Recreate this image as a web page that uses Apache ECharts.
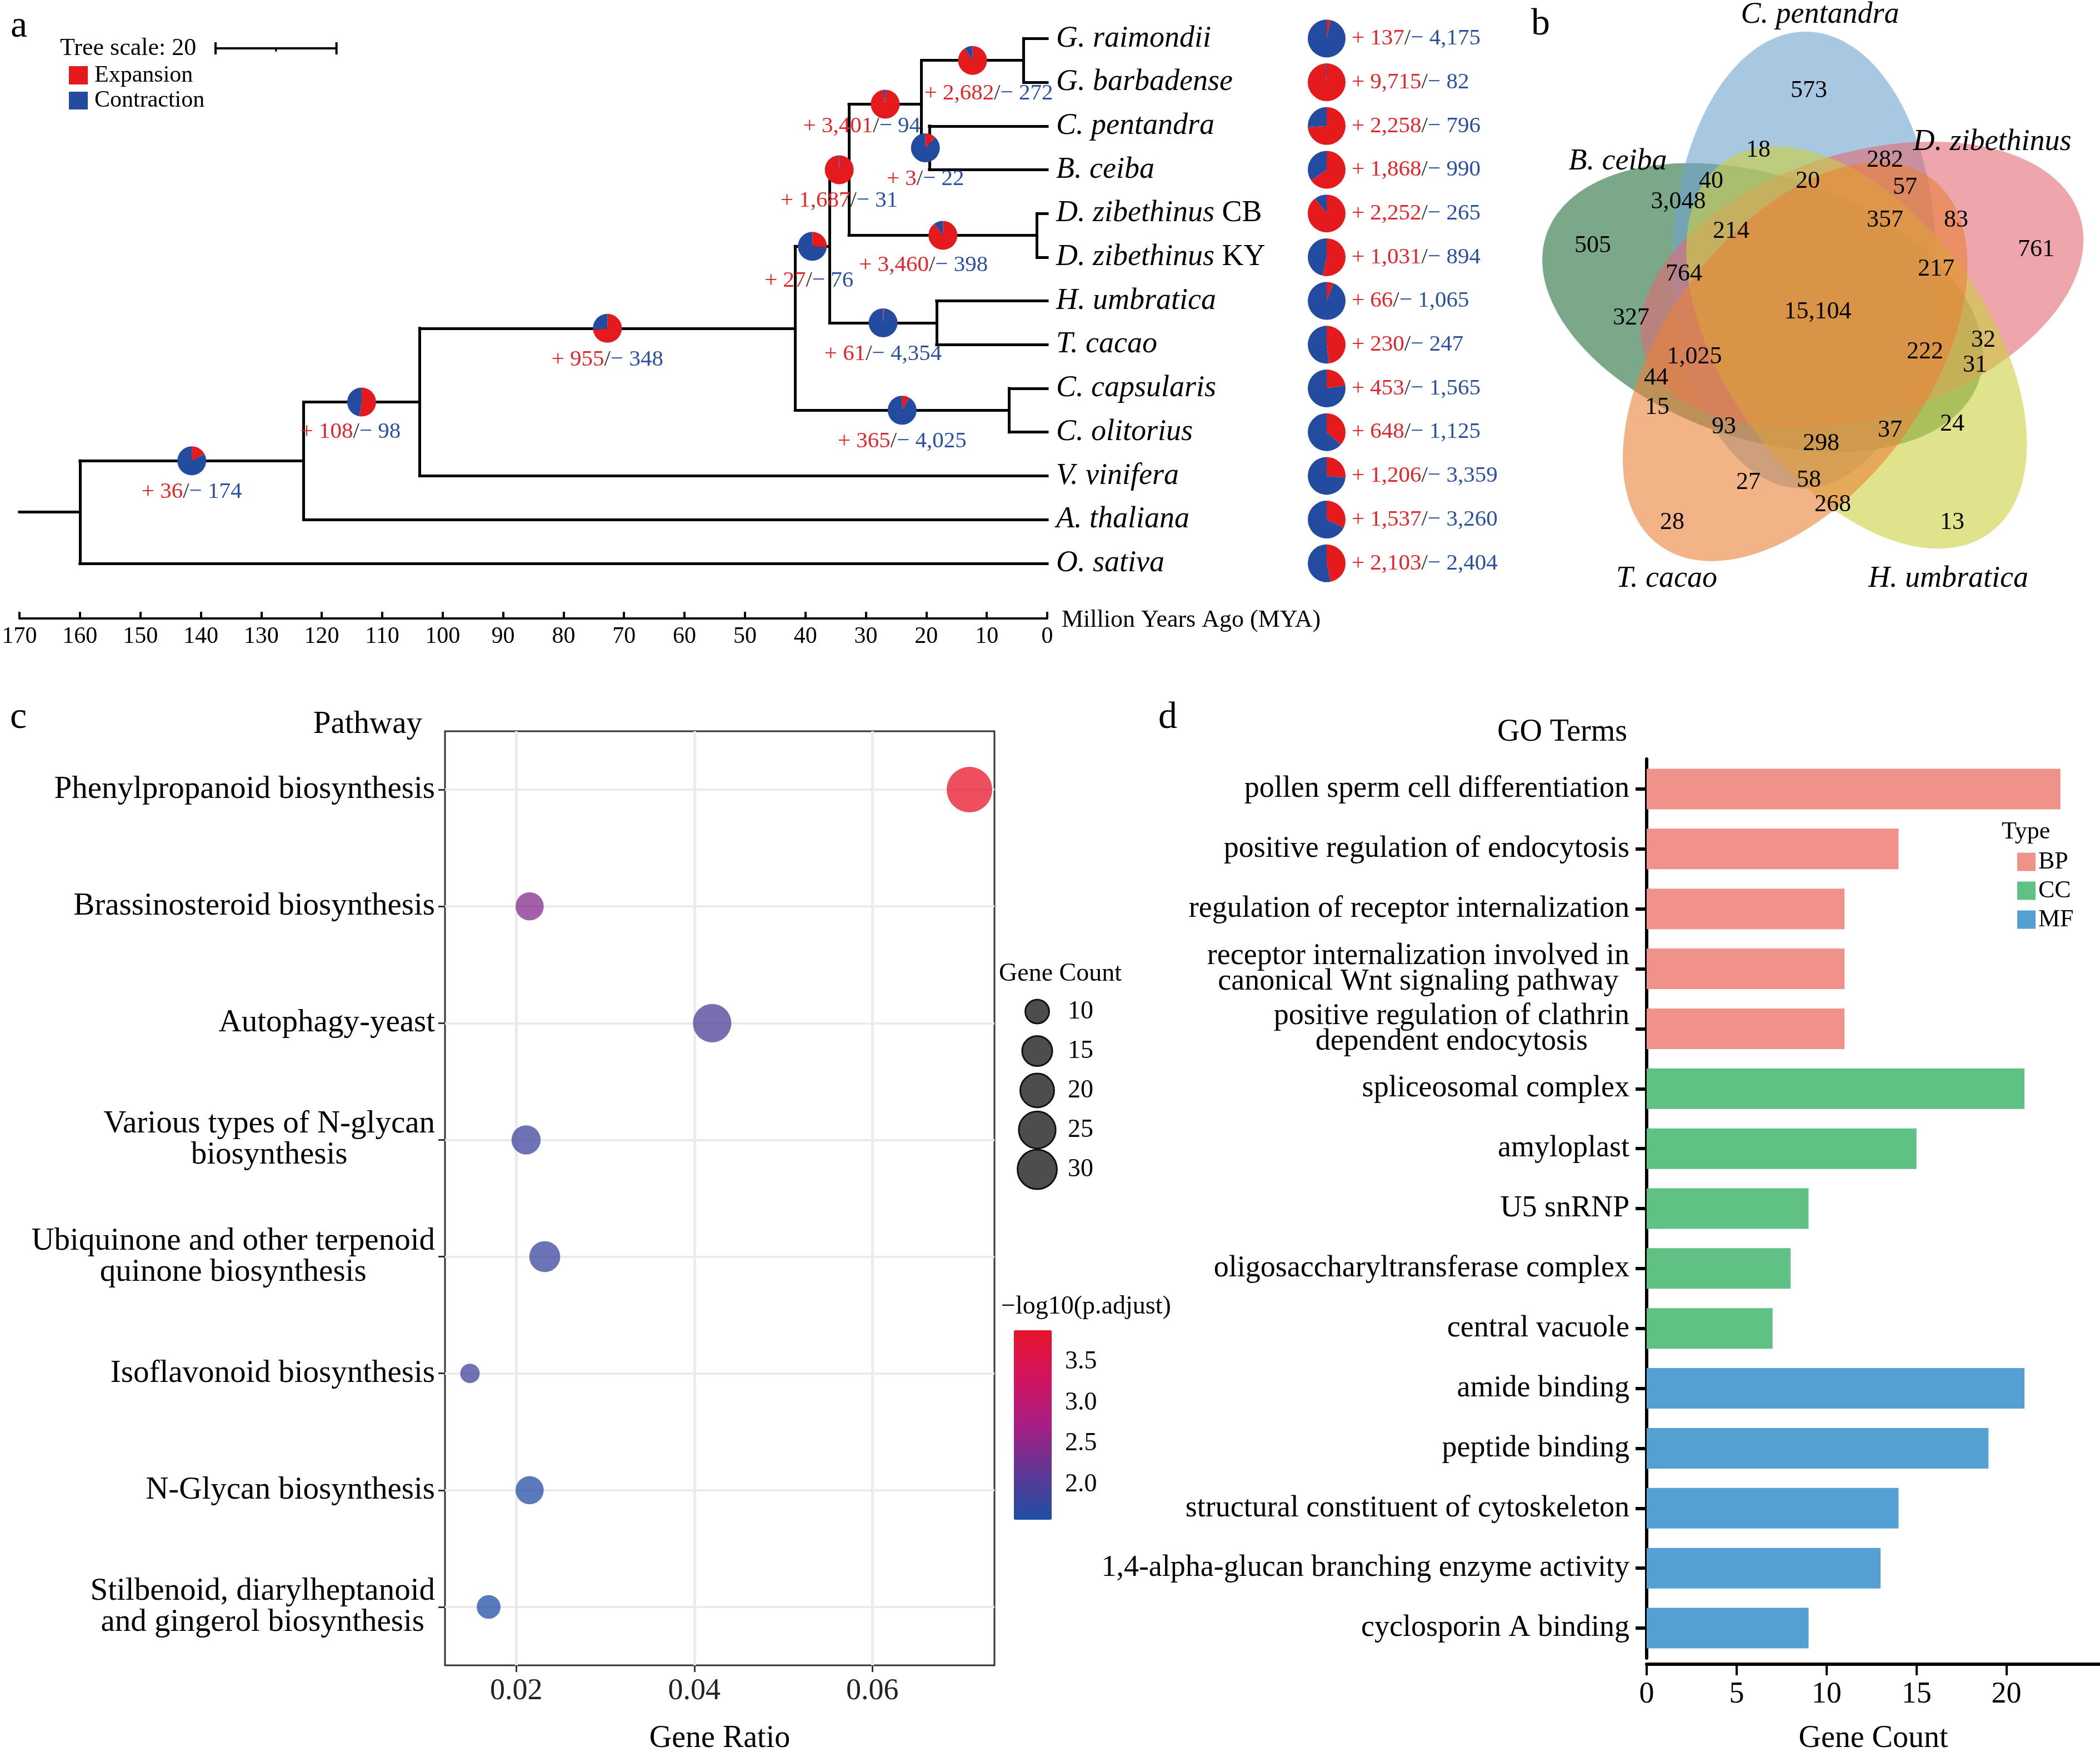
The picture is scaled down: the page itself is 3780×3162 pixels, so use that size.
<!DOCTYPE html>
<html>
<head>
<meta charset="utf-8">
<script src="https://cdn.jsdelivr.net/npm/echarts@6.0.0/dist/echarts.min.js"></script>
<style>
html,body{margin:0;padding:0;background:#ffffff;}
#chart{width:3780px;height:3162px;}
</style>
</head>
<body>
<div id="chart"></div>
<script>
// ================= DATA =================
// ---- Panel a: species tree with gene family expansion / contraction ----
const tipNames = ['G. raimondii','G. barbadense','C. pentandra','B. ceiba','D. zibethinus CB','D. zibethinus KY','H. umbratica','T. cacao','C. capsularis','C. olitorius','V. vinifera','A. thaliana','O. sativa'];
const tipExpansion   = [137, 9715, 2258, 1868, 2252, 1031, 66, 230, 453, 648, 1206, 1537, 2103];
const tipContraction = [4175, 82, 796, 990, 265, 894, 1065, 247, 1565, 1125, 3359, 3260, 2404];
// internal nodes, listed children-first; children are tip indices or node ids
const nodeIds = ['Goss','CpBc','Bomb','Duri','Malv3','HuTc','Malv2','Corc','Malv','Rosid','Dicot','Root'];
const nodeChildren = [[0,1],[2,3],['Goss','CpBc'],[4,5],['Bomb','Duri'],[6,7],['Malv3','HuTc'],[8,9],['Malv2','Corc'],['Malv',10],['Rosid',11],['Dicot',12]];
const nodeAge = [3.9, 19.5, 20.8, 1.7, 32.8, 18.3, 36.0, 6.3, 41.7, 103.8, 123.0, 160.0];
const nodeExpansion   = [2682, 3, 3401, 3460, 1687, 61, 27, 365, 955, 108, 36, null];
const nodeContraction = [272, 22, 94, 398, 31, 4354, 76, 4025, 348, 98, 174, null];
const rootStemAge = 170;
const treeScaleLength = 20;

// ---- Panel b: Venn of gene families ----
const vennSetNames = ['B. ceiba','C. pentandra','D. zibethinus','H. umbratica','T. cacao'];
const vennCounts = [573,18,282,40,20,57,3048,357,83,214,505,761,764,217,15104,327,32,1025,222,31,44,15,93,24,37,298,27,58,268,28,13];

// ---- Panel c: KEGG enrichment ----
const pathways = ['Phenylpropanoid biosynthesis','Brassinosteroid biosynthesis','Autophagy-yeast','Various types of N-glycan\nbiosynthesis','Ubiquinone and other terpenoid\nquinone biosynthesis','Isoflavonoid biosynthesis','N-Glycan biosynthesis','Stilbenoid, diarylheptanoid\nand gingerol biosynthesis'];
const geneRatio = [0.0709, 0.0215, 0.0420, 0.0211, 0.0232, 0.0148, 0.0215, 0.0169];
const geneCount = [45, 13, 28, 14, 16, 9, 13, 10];
const negLog10P = [3.887, 2.45, 2.0, 1.85, 1.8, 1.85, 1.62, 1.573];
const ratioTicks = [0.02, 0.04, 0.06];
const sizeLegendCounts = [10, 15, 20, 25, 30];
const colorbarTicks = [2.0, 2.5, 3.0, 3.5];

// ---- Panel d: GO enrichment ----
const goTerms = ['pollen sperm cell differentiation','positive regulation of endocytosis','regulation of receptor internalization','receptor internalization involved in\ncanonical Wnt signaling pathway','positive regulation of clathrin\ndependent endocytosis','spliceosomal complex','amyloplast','U5 snRNP','oligosaccharyltransferase complex','central vacuole','amide binding','peptide binding','structural constituent of cytoskeleton','1,4-alpha-glucan branching enzyme activity','cyclosporin A binding'];
const goCount = [23, 14, 11, 11, 11, 21, 15, 9, 8, 7, 21, 19, 14, 13, 9];
const goType = ['BP','BP','BP','BP','BP','CC','CC','CC','CC','CC','MF','MF','MF','MF','MF'];
const typeNames = ['BP','CC','MF'];
const countTicks = [0, 5, 10, 15, 20];

// ================= STYLE / LAYOUT =================
const SERIF = '"Liberation Serif","Times New Roman",serif';
const EXP_COLOR = '#e41a1c', CON_COLOR = '#234ba0';
const EXP_TEXT = '#e3262b', CON_TEXT = '#2c50a0';
const typeColors = {BP:'#f0918a', CC:'#60c184', MF:'#55a0d3'};
const TIP_PIE_X = 2388, TIP_LABEL_X = 2433;
const nodeLabelNudge = {Goss:[29,4], Bomb:[-42,-16], Duri:[-35,-2], Rosid:[-20,-2], Malv2:[-6,6]};
// Venn geometry (five rotated ellipses) and label layout
const vennCenter = [3269, 562], vennA = 411, vennB = 237, vennD = 96.5, vennAng0 = 185, vennRot0 = 18.6;
const vennFill = ['rgba(37,110,60,0.6)','rgba(110,163,207,0.6)','rgba(227,107,117,0.6)','rgba(205,207,63,0.6)','rgba(233,130,55,0.6)'];
const vennCountPos = [[3256,163],[3165,270],[3393,288],[3080,326],[3254,326],[3429,337],[3021,363],[3393,396],[3521,396],[3116,416],[2867,442],[3665,449],[3031,493],[3485,484],[3272,561],[2936,572],[3570,612],[3050,642],[3465,633],[3555,657],[2981,680],[2983,733],[3103,768],[3514,763],[3402,774],[3278,798],[3147,868],[3256,864],[3299,908],[3010,940],[3514,940]];
const vennSetPos = [[2912,291],[3276,27],[3586,256],[3507,1042],[3000,1042]];

const fmt = n => n.toLocaleString('en-US');
const chart = echarts.init(document.getElementById('chart'), null, {width:3780, height:3162, renderer:'canvas'});

// ---- tree layout (y of internal node = middle of its children) ----
const nodeYById = {}, nodeAgeById = {}, parentOf = {};
const yOf = c => typeof c === 'number' ? c : nodeYById[c];
const ageOf = c => typeof c === 'number' ? 0 : nodeAgeById[c];
nodeIds.forEach((id, i) => {
  nodeAgeById[id] = nodeAge[i];
  const ys = nodeChildren[i].map(yOf);
  nodeYById[id] = (Math.min(...ys) + Math.max(...ys)) / 2;
  nodeChildren[i].forEach(c => { if (typeof c === 'string') parentOf[c] = id; });
});
const branchSegs = [];
nodeIds.forEach((id, i) => {
  const ys = nodeChildren[i].map(yOf);
  branchSegs.push([[nodeAge[i], Math.min(...ys)], [nodeAge[i], Math.max(...ys)]]);
  nodeChildren[i].forEach(c => branchSegs.push([[nodeAge[i], yOf(c)], [ageOf(c), yOf(c)]]));
});
const rootId = nodeIds[nodeIds.length - 1];
branchSegs.push([[rootStemAge, nodeYById[rootId]], [nodeAgeById[rootId], nodeYById[rootId]]]);

// ---- panel c scales ----
const rPad = (Math.max(...geneRatio) - Math.min(...geneRatio)) * 0.05;
const ratioMin = Math.min(...geneRatio) - rPad, ratioMax = Math.max(...geneRatio) + rPad;
const pMin = Math.min(...negLog10P), pMax = Math.max(...negLog10P);
const cMin = Math.min(...geneCount), cMax = Math.max(...geneCount);
const sizeFn = c => 35 + 47 * Math.sqrt(Math.max(0, c - cMin) / (cMax - cMin));
const centerLines = v => String(v).split('\n').map(s => '{c|' + s + '}').join('\n');

const series = [
  { type:'lines', name:'tree', coordinateSystem:'cartesian2d', xAxisIndex:0, yAxisIndex:0, silent:true, z:2,
    lineStyle:{color:'#000', width:5, opacity:1, cap:'square'}, data: branchSegs.map(s => ({coords:s})) },
  { type:'scatter', name:'pathways', xAxisIndex:1, yAxisIndex:1, z:3, silent:true,
    data: pathways.map((p, i) => [geneRatio[i], i, geneCount[i], negLog10P[i]]),
    symbol:'circle', symbolSize: v => sizeFn(v[2]), itemStyle:{opacity:0.75} },
  { type:'scatter', name:'gridlines', xAxisIndex:1, yAxisIndex:1, z:1, silent:true, data:[],
    markLine:{ z:1, silent:true, symbol:['none','none'], label:{show:false}, animation:false,
      data: ratioTicks.map(v => ({xAxis:v, lineStyle:{color:'#ebebeb', width:5, type:'solid'}}))
        .concat(pathways.map((p, i) => ({yAxis:i, lineStyle:{color:'#ebebeb', width:4, type:'solid'}}))) } },
  { type:'scatter', name:'sizeLegend', xAxisIndex:2, yAxisIndex:2, silent:true,
    data: sizeLegendCounts.map((c, i) => [0, i, c]), symbolSize: v => sizeFn(v[2]),
    itemStyle:{color:'#4d4d4d', borderColor:'#111111', borderWidth:3, opacity:1} }
].concat(typeNames.map(t => ({
  type:'bar', name:t, xAxisIndex:4, yAxisIndex:4, stack:'go', barWidth:73, silent:true,
  itemStyle:{color:typeColors[t]},
  data: goTerms.map((g, i) => goType[i] === t ? goCount[i] : '-')
})));

const option = {
  animation:false,
  backgroundColor:'#ffffff',
  textStyle:{fontFamily:SERIF},
  grid:[
    {left:35, top:30, width:1850, height:1083, show:false},
    {left:801, top:1316, width:989, height:1690, show:true, borderColor:'#333333', borderWidth:3, backgroundColor:'rgba(0,0,0,0)'},
    {left:1840, top:1785, width:54, height:355, show:false},
    {left:1825, top:2394, width:68, height:341, show:false},
    {left:2964, top:1366, width:830, height:1626, show:false}
  ],
  xAxis:[
    {gridIndex:0, type:'value', inverse:true, min:0, max:170, interval:10, position:'bottom',
      axisLine:{show:true, onZero:false, lineStyle:{color:'#000', width:4}},
      axisTick:{show:true, inside:true, length:12, lineStyle:{color:'#000', width:4}},
      axisLabel:{fontFamily:SERIF, fontSize:42, color:'#000', margin:12}, splitLine:{show:false}},
    {gridIndex:1, type:'value', min:ratioMin, max:ratioMax, position:'bottom',
      axisLine:{show:false, onZero:false},
      axisTick:{show:true, length:12, lineStyle:{color:'#333', width:3}, customValues:ratioTicks},
      axisLabel:{customValues:ratioTicks, formatter: v => v.toFixed(2), fontFamily:SERIF, fontSize:54, color:'#222', margin:20},
      splitLine:{show:false},
      name:'Gene Ratio', nameLocation:'middle', nameGap:104, nameTextStyle:{fontFamily:SERIF, fontSize:56, color:'#000'}},
    {gridIndex:2, type:'value', min:-1, max:1, show:false},
    {gridIndex:3, type:'value', min:0, max:1, show:false},
    {gridIndex:4, type:'value', min:0, max:25.2, offset:11, position:'bottom',
      axisLine:{show:true, onZero:false, lineStyle:{color:'#000', width:6}},
      axisTick:{show:true, length:20, lineStyle:{color:'#000', width:4}, customValues:countTicks},
      axisLabel:{customValues:countTicks, fontFamily:SERIF, fontSize:54, color:'#000', margin:28},
      splitLine:{show:false},
      name:'Gene Count', nameLocation:'middle', nameGap:106, nameTextStyle:{fontFamily:SERIF, fontSize:56, color:'#000'}}
  ],
  yAxis:[
    {gridIndex:0, type:'value', inverse:true, min:-0.5, max:13.26, show:false},
    {gridIndex:1, type:'category', inverse:true, data:pathways,
      axisLine:{show:false, onZero:false},
      axisTick:{show:true, alignWithLabel:true, length:12, lineStyle:{color:'#333', width:3}},
      axisLabel:{margin:18, formatter:centerLines, fontFamily:SERIF, fontSize:57, color:'#000', lineHeight:56,
        rich:{c:{align:'center', fontFamily:SERIF, fontSize:57, color:'#000', lineHeight:56}}},
      splitLine:{show:false}},
    {gridIndex:2, type:'category', inverse:true, position:'right', data:sizeLegendCounts.map(String),
      axisLine:{show:false}, axisTick:{show:false},
      axisLabel:{margin:28, fontFamily:SERIF, fontSize:46, color:'#000'}, splitLine:{show:false}},
    {gridIndex:3, type:'value', min:pMin, max:pMax, position:'right', z:10,
      axisLine:{show:false},
      axisTick:{show:true, inside:true, length:14, lineStyle:{color:'#ffffff', width:3}, customValues:colorbarTicks},
      axisLabel:{customValues:colorbarTicks, formatter: v => v.toFixed(1), margin:24, fontFamily:SERIF, fontSize:46, color:'#000'},
      splitLine:{show:false}},
    {gridIndex:4, type:'category', inverse:true, data:goTerms,
      axisLine:{show:true, onZero:false, lineStyle:{color:'#000', width:6}},
      axisTick:{show:true, alignWithLabel:true, length:20, lineStyle:{color:'#000', width:6}},
      axisLabel:{margin:31, formatter:centerLines, fontFamily:SERIF, fontSize:54, color:'#000', lineHeight:46,
        rich:{c:{align:'center', fontFamily:SERIF, fontSize:54, color:'#000', lineHeight:46}}},
      splitLine:{show:false}}
  ],
  visualMap:[{
    type:'continuous', seriesIndex:1, dimension:3, min:pMin, max:pMax, show:true,
    calculable:false, hoverLink:false, orient:'vertical', padding:0,
    left:1825, top:2394, itemWidth:68, itemHeight:341,
    inRange:{color:['#1f4fa5','#5f3794','#a81e84','#d2145f','#e8142a']}
  }],
  legend:{
    data:typeNames, left:3631, top:1529, orient:'vertical', icon:'rect', selectedMode:false,
    itemWidth:33, itemHeight:33, itemGap:8, padding:0,
    textStyle:{fontFamily:SERIF, fontSize:44, color:'#000', lineHeight:33}
  },
  series: series
};
chart.setOption(option);

// ================= PHASE 2: marks placed through the tree grid's scales =================
const toPx = (a, y) => chart.convertToPixel({gridIndex:0}, [a, y]);
const graphics = [];
const txt = (text, x, y, size, opts) => Object.assign({type:'text', x, y, z:20, silent:true,
  style:Object.assign({text, fontSize:size, fontFamily:SERIF, fill:'#000', textAlign:'left', textVerticalAlign:'middle', align:'left', verticalAlign:'middle'}, opts || {})});

// Venn ellipses
for (let k = 0; k < 5; k++) {
  const ca = (vennAng0 + 72 * k) * Math.PI / 180, rot = (vennRot0 + 72 * k) * Math.PI / 180;
  const cx = vennCenter[0] + vennD * Math.cos(ca), cy = vennCenter[1] + vennD * Math.sin(ca);
  const pts = [];
  for (let j = 0; j < 180; j++) {
    const t = j / 180 * 2 * Math.PI;
    pts.push([cx + vennA * Math.cos(t) * Math.cos(rot) - vennB * Math.sin(t) * Math.sin(rot),
              cy + vennA * Math.cos(t) * Math.sin(rot) + vennB * Math.sin(t) * Math.cos(rot)]);
  }
  graphics.push({type:'polygon', z:5, silent:true, shape:{points:pts}, style:{fill:vennFill[k]}});
}
vennCounts.forEach((v, i) => graphics.push(txt(fmt(v), vennCountPos[i][0], vennCountPos[i][1], 44, {textAlign:'center', align:'center'})));
vennSetNames.forEach((n, i) => graphics.push(txt(n, vennSetPos[i][0], vennSetPos[i][1], 54, {textAlign:'center', align:'center', fontStyle:'italic'})));

// count label (red gains / blue losses)
const countLabel = (g, l, x, y, align) => txt(`{r|+ ${fmt(g)}}{s|/}{b|\u2212 ${fmt(l)}}`, x, y, 41, {
  textAlign:align, align:align,
  rich:{r:{fill:EXP_TEXT, fontSize:41, fontFamily:SERIF}, s:{fill:'#333', fontSize:41, fontFamily:SERIF}, b:{fill:CON_TEXT, fontSize:41, fontFamily:SERIF}}
});
const makePie = (center, r, g, l) => ({
  type:'pie', center:center, radius:r, startAngle:90, clockwise:true, silent:true, z:5,
  avoidLabelOverlap:false, label:{show:false}, labelLine:{show:false}, itemStyle:{borderWidth:0},
  data:[{name:'Expansion', value:g, itemStyle:{color:EXP_COLOR}}, {name:'Contraction', value:l, itemStyle:{color:CON_COLOR}}]
});
const pies = [];
tipNames.forEach((name, i) => {
  const p = toPx(0, i);
  pies.push(makePie([TIP_PIE_X, p[1]], 34, tipExpansion[i], tipContraction[i]));
  const m = name.match(/^(.*?)( (?:CB|KY))?$/);
  const text = '{i|' + m[1] + '}' + (m[2] ? '{n|' + m[2] + '}' : '');
  graphics.push(txt(text, p[0] + 16, p[1], 54, {rich:{
    i:{fontStyle:'italic', fontSize:54, fontFamily:SERIF, fill:'#000'},
    n:{fontStyle:'normal', fontSize:54, fontFamily:SERIF, fill:'#000'}}}));
  graphics.push(countLabel(tipExpansion[i], tipContraction[i], TIP_LABEL_X, p[1], 'left'));
});
nodeIds.forEach((id, i) => {
  if (nodeExpansion[i] == null) return;
  const mid = (nodeAgeById[parentOf[id]] + nodeAge[i]) / 2;
  const p = toPx(mid, nodeYById[id]);
  pies.push(makePie(p, 26, nodeExpansion[i], nodeContraction[i]));
  const nd = nodeLabelNudge[id] || [0, 0];
  graphics.push(countLabel(nodeExpansion[i], nodeContraction[i], p[0] + nd[0], p[1] + 56 + nd[1], 'center'));
});

// tree scale bar & pie legend
const s0 = toPx(0, 0)[0], s1 = toPx(treeScaleLength, 0)[0];
const barLen = Math.abs(s0 - s1), bx = 388, by = 87;
graphics.push(txt('Tree scale: ' + treeScaleLength, 108, by, 44));
graphics.push({type:'line', z:20, silent:true, shape:{x1:bx, y1:by, x2:bx + barLen, y2:by}, style:{stroke:'#000', lineWidth:4}});
graphics.push({type:'line', z:20, silent:true, shape:{x1:bx, y1:by - 11, x2:bx, y2:by + 11}, style:{stroke:'#000', lineWidth:4}});
graphics.push({type:'line', z:20, silent:true, shape:{x1:bx + barLen, y1:by - 11, x2:bx + barLen, y2:by + 11}, style:{stroke:'#000', lineWidth:4}});
graphics.push({type:'line', z:20, silent:true, shape:{x1:bx + barLen / 2, y1:by, x2:bx + barLen / 2, y2:by + 6}, style:{stroke:'#000', lineWidth:3}});
graphics.push({type:'rect', z:20, silent:true, shape:{x:124, y:119, width:34, height:33}, style:{fill:EXP_COLOR}});
graphics.push({type:'rect', z:20, silent:true, shape:{x:124, y:165, width:34, height:32}, style:{fill:CON_COLOR}});
graphics.push(txt('Expansion', 170, 136, 42));
graphics.push(txt('Contraction', 170, 181, 42));
graphics.push(txt('Million Years Ago (MYA)', 1911, 1116, 44));

// panel letters & titles
graphics.push(txt('a', 34, 48, 68, {textAlign:'center', align:'center'}));
graphics.push(txt('b', 2773, 44, 68, {textAlign:'center', align:'center'}));
graphics.push(txt('c', 33, 1292, 68, {textAlign:'center', align:'center'}));
graphics.push(txt('d', 2102, 1292, 68, {textAlign:'center', align:'center'}));
graphics.push(txt('Pathway', 760, 1304, 57, {textAlign:'right', align:'right'}));
graphics.push(txt('Gene Count', 1798, 1753, 46));
graphics.push(txt('\u2212log10(p.adjust)', 1802, 2352, 46));
graphics.push(txt('GO Terms', 2929, 1318, 56, {textAlign:'right', align:'right'}));
graphics.push(txt('Type', 3603, 1497, 44));

chart.setOption({series: series.concat(pies), graphic:{elements:graphics}});
</script>
</body>
</html>
